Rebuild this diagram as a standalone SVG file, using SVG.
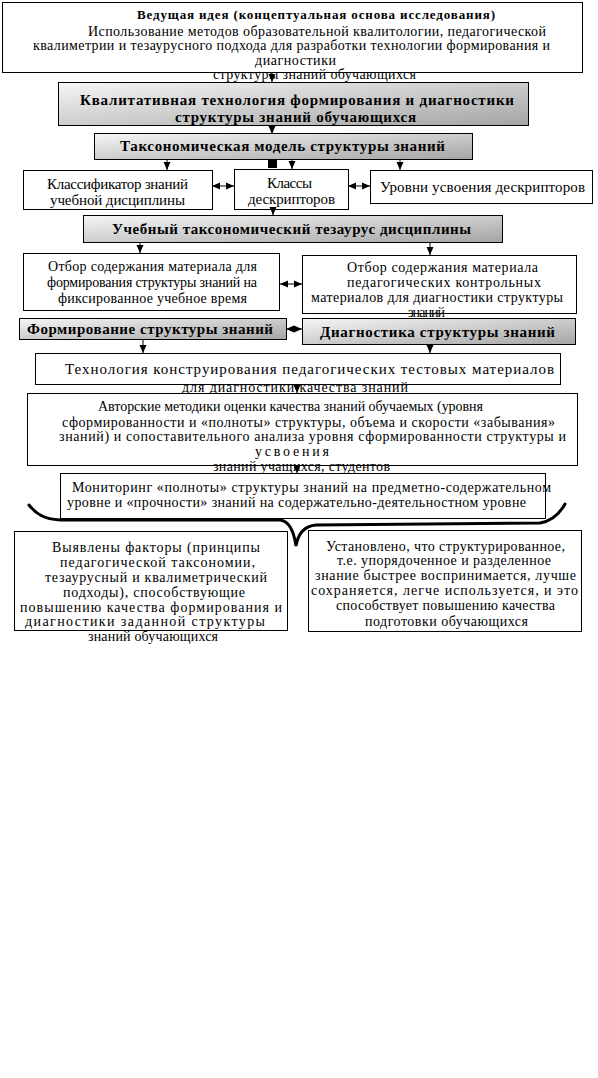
<svg xmlns="http://www.w3.org/2000/svg" width="598" height="1078" viewBox="0 0 598 1078">
<style>
.box{fill:#fff;stroke:#000;stroke-width:1}
.gbox{fill:url(#g);stroke:#000;stroke-width:1}
.t{font-family:"Liberation Serif","Times New Roman",serif;font-size:14px;fill:#000}
.l{font-size:15px}
.b{font-weight:bold;font-size:15px}
.h{font-weight:bold;font-size:13px}
.c{stroke:#000;stroke-width:1;fill:none}
.a{marker-end:url(#ah)}
.d{marker-end:url(#ah);marker-start:url(#ah)}
.brace{stroke:#000;stroke-width:3;fill:none;stroke-linecap:round}
</style>
<defs>
<linearGradient id="g" x1="0" y1="0" x2="1" y2="1">
<stop offset="0" stop-color="#f6f6f6"/>
<stop offset="1" stop-color="#a4a4a4"/>
</linearGradient>
<marker id="ah" markerUnits="userSpaceOnUse" markerWidth="8" markerHeight="8" viewBox="0 0 8 8" refX="8" refY="4" orient="auto-start-reverse">
<path d="M0,0.5 L8,4 L0,7.5 z" fill="#000"/>
</marker>
</defs>
<rect width="598" height="1078" fill="#fff"/>

<g id="idea">
<rect class="box" x="2.5" y="2.5" width="580" height="70"/>
<text class="t h" x="137" y="19" textLength="358" lengthAdjust="spacing">Ведущая идея (концептуальная основа исследования)</text>
<text class="t" x="88" y="36" textLength="458" lengthAdjust="spacing">Использование методов образовательной квалитологии, педагогической</text>
<text class="t" x="33" y="50" textLength="517" lengthAdjust="spacing">квалиметрии и тезаурусного подхода для разработки технологии формирования и</text>
<text class="t" x="255" y="65" textLength="81" lengthAdjust="spacing">диагностики</text>
<text class="t" x="213" y="79" textLength="203" lengthAdjust="spacing">структуры знаний обучающихся</text>
</g>

<g id="qualitative">
<rect class="gbox" x="58.5" y="82.5" width="470" height="43"/>
<text class="t b" x="80" y="105" textLength="434" lengthAdjust="spacing">Квалитативная технология формирования и диагностики</text>
<text class="t b" x="175" y="122" textLength="241" lengthAdjust="spacing">структуры знаний обучающихся</text>
</g>

<g id="taxmodel">
<rect class="gbox" x="94.5" y="133.5" width="378" height="26"/>
<text class="t b" x="120" y="151" textLength="325" lengthAdjust="spacing">Таксономическая модель структуры знаний</text>
</g>

<g id="classifier">
<rect class="box" x="23.5" y="170.5" width="189" height="39"/>
<text class="t l" x="47" y="189" textLength="141" lengthAdjust="spacing">Классификатор знаний</text>
<text class="t l" x="50" y="205" textLength="135" lengthAdjust="spacing">учебной дисциплины</text>
</g>

<g id="classes">
<rect class="box" x="234.5" y="169.5" width="114" height="40"/>
<text class="t l" x="267" y="188" textLength="45" lengthAdjust="spacing">Классы</text>
<text class="t l" x="248" y="204" textLength="87" lengthAdjust="spacing">дескрипторов</text>
</g>

<g id="levels">
<rect class="box" x="370.5" y="170.5" width="222" height="33"/>
<text class="t l" x="380" y="192" textLength="205" lengthAdjust="spacing">Уровни усвоения дескрипторов</text>
</g>

<g id="thesaurus">
<rect class="gbox" x="83.5" y="215.5" width="419" height="27"/>
<text class="t b" x="112" y="234" textLength="359" lengthAdjust="spacing">Учебный таксономический тезаурус дисциплины</text>
</g>

<g id="select-form">
<rect class="box" x="23.5" y="253.5" width="256" height="57"/>
<text class="t" x="48" y="271" textLength="209" lengthAdjust="spacing">Отбор содержания материала для</text>
<text class="t" x="47" y="287" textLength="210" lengthAdjust="spacing">формирования структуры знаний на</text>
<text class="t" x="58" y="303" textLength="189" lengthAdjust="spacing">фиксированное учебное время</text>
</g>

<g id="select-diag">
<rect class="box" x="302.5" y="255.5" width="274" height="58"/>
<text class="t" x="347" y="272" textLength="191" lengthAdjust="spacing">Отбор содержания материала</text>
<text class="t" x="347" y="287" textLength="194" lengthAdjust="spacing">педагогических контрольных</text>
<text class="t" x="311" y="302" textLength="252" lengthAdjust="spacing">материалов для диагностики структуры</text>
<text class="t" x="408" y="317" textLength="37" lengthAdjust="spacing">знаний</text>
</g>

<g id="formation">
<rect class="gbox" x="19.5" y="318.5" width="267" height="21"/>
<text class="t b" x="27" y="334" textLength="246" lengthAdjust="spacing">Формирование структуры знаний</text>
</g>

<g id="diagnostics">
<rect class="gbox" x="302.5" y="318.5" width="273" height="26"/>
<text class="t b" x="320" y="337" textLength="235" lengthAdjust="spacing">Диагностика структуры знаний</text>
</g>

<g id="tech">
<rect class="box" x="35.5" y="353.5" width="525" height="31"/>
<text class="t l" x="65" y="374" textLength="489" lengthAdjust="spacing">Технология конструирования педагогических тестовых материалов</text>
<text class="t" x="182" y="392" textLength="226" lengthAdjust="spacing">для диагностики качества знаний</text>
</g>

<g id="methods">
<rect class="box" x="27.5" y="393.5" width="550" height="72"/>
<text class="t" x="98" y="411" textLength="385" lengthAdjust="spacing">Авторские методики оценки качества знаний обучаемых (уровня</text>
<text class="t" x="62" y="427" textLength="493" lengthAdjust="spacing">сформированности и «полноты» структуры, объема и скорости «забывания»</text>
<text class="t" x="59" y="441" textLength="507" lengthAdjust="spacing">знаний) и сопоставительного анализа уровня сформированности структуры и</text>
<text class="t" x="255" y="456" textLength="74" lengthAdjust="spacing">усвоения</text>
<text class="t" x="213" y="471" textLength="177" lengthAdjust="spacing">знаний учащихся, студентов</text>
</g>

<g id="monitoring">
<rect class="box" x="60.5" y="473.5" width="485" height="45"/>
<text class="t" x="72" y="492" textLength="479" lengthAdjust="spacing">Мониторинг «полноты» структуры знаний на предметно-содержательном</text>
<text class="t" x="67" y="507" textLength="459" lengthAdjust="spacing">уровне и «прочности» знаний на содержательно-деятельностном уровне</text>
</g>

<g id="factors">
<rect class="box" x="14.5" y="531.5" width="273" height="99"/>
<text class="t" x="52" y="552" textLength="208" lengthAdjust="spacing">Выявлены факторы (принципы</text>
<text class="t" x="60" y="567" textLength="195" lengthAdjust="spacing">педагогической таксономии,</text>
<text class="t" x="45" y="582" textLength="222" lengthAdjust="spacing">тезаурусный и квалиметрический</text>
<text class="t" x="63" y="597" textLength="182" lengthAdjust="spacing">подходы), способствующие</text>
<text class="t" x="20" y="612" textLength="262" lengthAdjust="spacing">повышению качества формирования и</text>
<text class="t" x="25" y="626" textLength="240" lengthAdjust="spacing">диагностики заданной структуры</text>
<text class="t" x="88" y="641" textLength="130" lengthAdjust="spacing">знаний обучающихся</text>
</g>

<g id="established">
<rect class="box" x="308.5" y="530.5" width="273" height="101"/>
<text class="t" x="326" y="551" textLength="239" lengthAdjust="spacing">Установлено, что структурированное,</text>
<text class="t" x="337" y="565" textLength="214" lengthAdjust="spacing">т.е. упорядоченное и разделенное</text>
<text class="t" x="315" y="580" textLength="261" lengthAdjust="spacing">знание быстрее воспринимается, лучше</text>
<text class="t" x="311" y="595" textLength="267" lengthAdjust="spacing">сохраняется, легче используется, и это</text>
<text class="t" x="336" y="610" textLength="219" lengthAdjust="spacing">способствует повышению качества</text>
<text class="t" x="365" y="626" textLength="163" lengthAdjust="spacing">подготовки обучающихся</text>
</g>

<g id="connectors">
<line class="c a" x1="272" y1="72" x2="272" y2="82"/>
<line class="c a" x1="272" y1="126" x2="272" y2="134"/>
<line class="c a" x1="167" y1="160" x2="167" y2="170"/>
<line class="c a" x1="292" y1="160" x2="292" y2="169"/>
<line class="c a" x1="400" y1="160" x2="400" y2="170"/>
<rect x="268" y="160" width="9" height="8" fill="#000"/>
<line class="c d" x1="212" y1="186" x2="234" y2="186"/>
<line class="c d" x1="348" y1="186" x2="370" y2="186"/>
<line class="c a" x1="273" y1="209" x2="273" y2="215"/>
<line class="c a" x1="140" y1="243" x2="140" y2="253"/>
<line class="c a" x1="430" y1="243" x2="430" y2="255"/>
<line class="c d" x1="280" y1="284" x2="302" y2="284"/>
<line class="c d" x1="286" y1="329" x2="302" y2="329"/>
<line class="c a" x1="143" y1="339" x2="143" y2="353"/>
<line class="c a" x1="430" y1="344" x2="430" y2="353"/>
<line class="c a" x1="297" y1="385" x2="297" y2="393"/>
<line class="c a" x1="297" y1="465" x2="297" y2="473"/>
<path class="brace" d="M29,505 C36,514 44,519 60,520 L280,520 C289,521 294,532 296,546 C298,534 304,526 316,525 L540,523 C552,521 560,513 565,504"/>
</g>
</svg>
